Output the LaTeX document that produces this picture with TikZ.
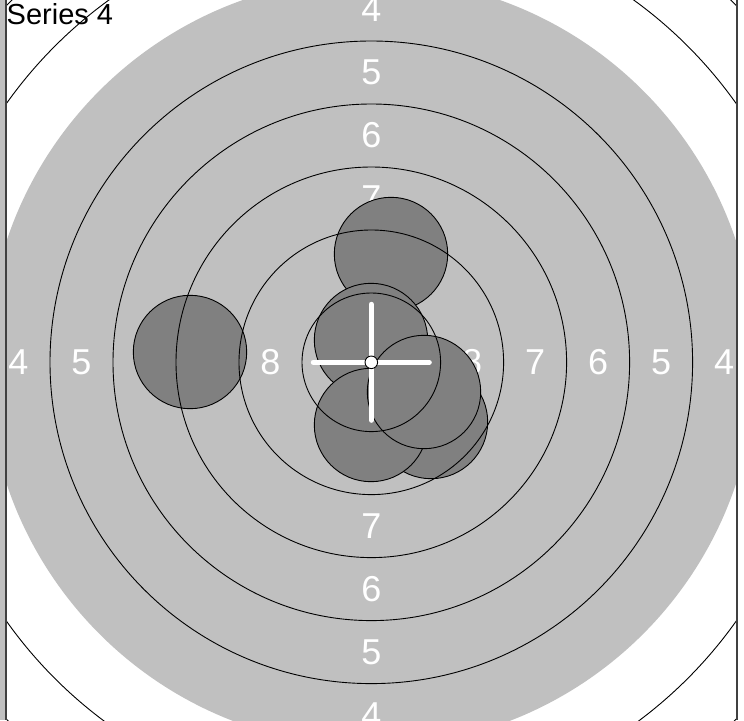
\documentclass[tikz,border=0pt]{standalone}
\usepackage{fontspec}
\setmainfont{Liberation Sans}
\usepackage{xcolor}
\usepackage{tikz}
\usetikzlibrary{calc}

\definecolor{aimgray}{RGB}{192,192,192}
\definecolor{holegray}{RGB}{128,128,128}
\definecolor{framegray}{RGB}{64,64,64}

\begin{document}
\begin{tikzpicture}[
  x=1pt, y=-1pt,
  ringline/.style={draw=black, line width=0.9pt},
  ringlbl/.style={text=white, inner sep=0pt, font=\fontsize{36}{36}\selectfont},
  hole/.style={fill=holegray, draw=black, line width=0.9pt},
  cross/.style={draw=white, line width=5pt, line cap=round},
  frameline/.style={draw=framegray, line width=2pt}
]
  \useasboundingbox (0,0) rectangle (744,720);
  \fill[aimgray] (0,0) rectangle (6,720);

  \coordinate (ctr) at (371.3,362.3);

  \begin{scope}
    \clip (6,0) rectangle (737,720);
    % aiming mark (rings 4 to 10)
    \fill[aimgray] (ctr) circle[radius=384.3pt];

    \foreach \n/\d in {8/100.8, 7/163.8, 6/226.8, 5/289.8, 4/352.8} {
      \node[ringlbl] (lbl\n e) at ($(ctr)+(\d,0)$) {\n};
      \node[ringlbl] (lbl\n w) at ($(ctr)+(-\d,0)$) {\n};
      \node[ringlbl] (lbl\n n) at ($(ctr)+(0,-\d)$) {\n};
      \node[ringlbl] (lbl\n s) at ($(ctr)+(0,\d)$) {\n};
    }

    % shots
    \foreach \name/\px/\py in {shotL/190/352, shotT/391/254, shotA/371/340,
        shotRb/431/422, shotB/371/425, shotRa/424/392} {
      \path[hole] (\px,\py) coordinate (\name) circle[radius=56.7pt];
    }

    \foreach \r in {69.3, 132.3, 195.3, 258.3, 321.3, 447.3, 510.3, 573.3} {
      \draw[ringline] (ctr) circle[radius=\r pt];
    }

    \draw[cross] ($(ctr)+(-58,0)$) -- ($(ctr)+(58,0)$);
    \draw[cross] ($(ctr)+(0,-58)$) -- ($(ctr)+(0,58)$);
    \draw[ringline, fill=white] (ctr) circle[radius=6.3pt];
  \end{scope}

  \draw[frameline] (6,0) -- (6,720);
  \draw[frameline] (737,0) -- (737,720);

  \node[anchor=base west, inner sep=0pt, font=\fontsize{29}{29}\selectfont]
    (title) at (6.5,24) {Series 4};
\end{tikzpicture}
\end{document}
